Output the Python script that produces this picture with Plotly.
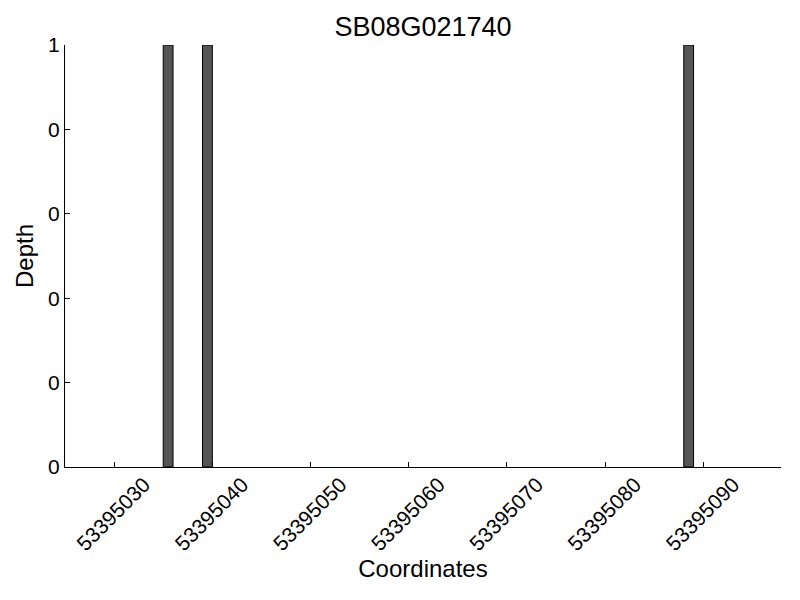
import plotly.graph_objects as go

positions = [53395035.5, 53395039.5, 53395088.5]
depths = [1, 1, 1]
x_ticks = [53395030, 53395040, 53395050, 53395060, 53395070, 53395080, 53395090]
y_ticks = [0, 0.2, 0.4, 0.6, 0.8, 1.0]
y_labels = ["0", "0", "0", "0", "0", "1"]

fig = go.Figure()
fig.add_trace(go.Bar(
    x=positions, y=depths, width=1.0,
    marker=dict(color="#555555", line=dict(color="black", width=1)),
))
font = "Liberation Sans, Arial, sans-serif"
fig.update_layout(
    width=784, height=584,
    margin=dict(l=57, r=11, t=37, b=125),
    plot_bgcolor="white", paper_bgcolor="white",
    showlegend=False,
    font=dict(family=font, color="black"),
    title=dict(text="SB08G021740", x=0.5, xanchor="center",
               xref="paper",
               y=1 - 19 / 584, yanchor="middle",
               font=dict(size=27, family=font)),
)
fig.update_xaxes(
    range=[53395025.0, 53395097.9],
    tickvals=x_ticks, ticktext=[str(v) for v in x_ticks],
    tickangle=-45, tickfont=dict(size=21),
    ticks="inside", ticklen=5, tickcolor="black",
    showline=True, linecolor="black", linewidth=1.2,
    showgrid=False, zeroline=False,
    ticklabelshift=30, ticklabelstandoff=-4,
    title=dict(text="Coordinates", font=dict(size=24), standoff=0),
)
fig.update_yaxes(
    range=[0, 1],
    tickvals=y_ticks, ticktext=y_labels, tickfont=dict(size=21),
    ticks="inside", ticklen=5, tickcolor="black",
    showline=True, linecolor="black", linewidth=1.2,
    showgrid=False, zeroline=False,
    title=dict(text="Depth", font=dict(size=24), standoff=7),
)
fig.write_html("out.html")
